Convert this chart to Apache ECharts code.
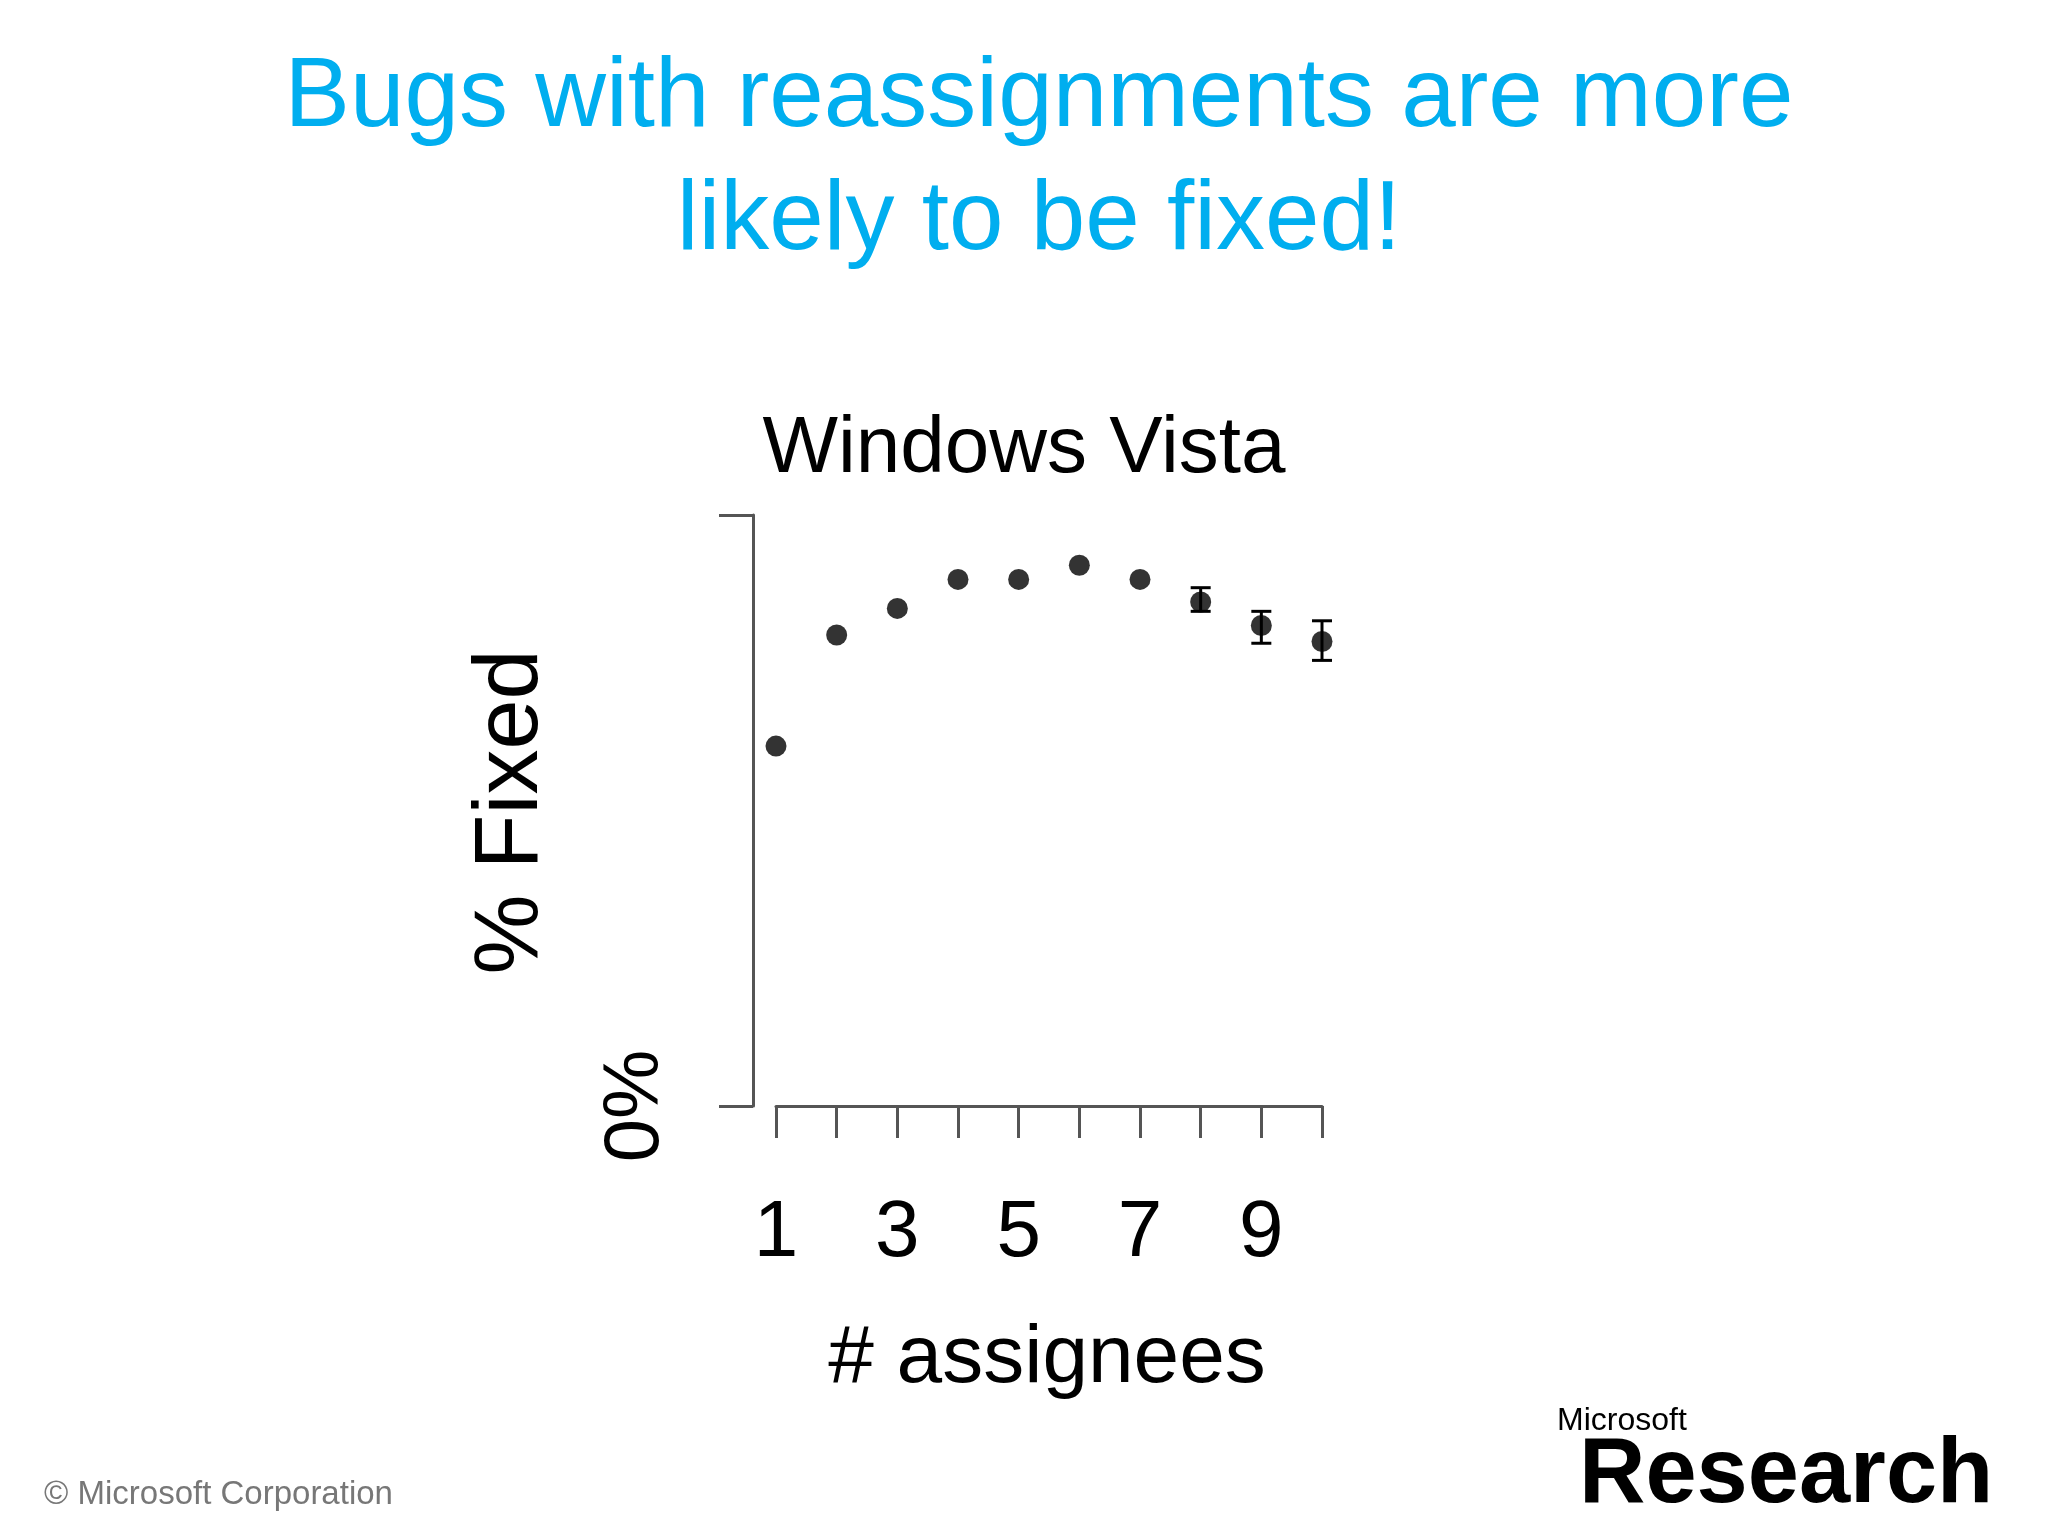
<!DOCTYPE html>
<html>
<head>
<meta charset="utf-8">
<script src="https://cdn.jsdelivr.net/npm/echarts@6/dist/echarts.min.js"></script>
<style>
html,body{margin:0;padding:0;background:#fff;}
#chart{width:2048px;height:1536px;}
</style>
</head>
<body>
<div id="chart"></div>
<script>
// data (y in % of axis height, top of axis = 100)
var assignees = [1, 2, 3, 4, 5, 6, 7, 8, 9, 10];
var pctFixed = [60.9, 79.7, 84.2, 89.1, 89.1, 91.5, 89.1, 85.3, 81.3, 78.6];
var errLow = [60.9, 79.7, 84.2, 89.1, 89.1, 91.5, 89.1, 83.7, 78.3, 75.4];
var errHigh = [60.9, 79.7, 84.2, 89.1, 89.1, 91.5, 89.1, 87.7, 83.7, 82.1];
var xTickLabels = ['1', '', '3', '', '5', '', '7', '', '9', ''];

var font = '"Liberation Sans", Arial, sans-serif';
var chart = echarts.init(document.getElementById('chart'));

var points = assignees.map(function (a, i) { return [a, pctFixed[i]]; });
var bars = assignees.map(function (a, i) { return [a, errLow[i], errHigh[i]]; });

function drawErr(params, api) {
    var lo = api.coord([api.value(0), api.value(1)]);
    var hi = api.coord([api.value(0), api.value(2)]);
    if (Math.abs(hi[1] - lo[1]) < 1) return null;
    var c = 10;
    var st = { stroke: '#000', lineWidth: 3 };
    return {
        type: 'group',
        children: [
            { type: 'line', shape: { x1: lo[0], y1: lo[1], x2: hi[0], y2: hi[1] }, style: st },
            { type: 'line', shape: { x1: lo[0] - c, y1: lo[1], x2: lo[0] + c, y2: lo[1] }, style: st },
            { type: 'line', shape: { x1: hi[0] - c, y1: hi[1], x2: hi[0] + c, y2: hi[1] }, style: st }
        ]
    };
}

var option = {
    backgroundColor: '#fff',
    animation: false,
    title: [{
        text: 'Bugs with reassignments are more\nlikely to be fixed!',
        left: 1034, top: 32, textAlign: 'center',
        textStyle: { color: '#00AEEF', fontFamily: font, fontSize: 98, fontWeight: 'normal', lineHeight: 123 }
    }, {
        text: 'Windows Vista',
        left: 1019, top: 405, textAlign: 'center',
        textStyle: { color: '#000', fontFamily: font, fontSize: 80, fontWeight: 'normal' }
    }],
    graphic: [
        { type: 'text', x: 512, y: 812, rotation: Math.PI / 2,
          style: { text: '% Fixed', font: '90px ' + font, fill: '#000', align: 'center', verticalAlign: 'middle' } },
        { type: 'text', x: 1047, y: 1359,
          style: { text: '# assignees', font: '82px ' + font, fill: '#000', align: 'center', verticalAlign: 'middle' } },
        { type: 'text', x: 44, y: 1495,
          style: { text: '© Microsoft Corporation', font: '33px ' + font, fill: '#777', verticalAlign: 'middle' } },
        { type: 'text', x: 1557, y: 1421,
          style: { text: 'Microsoft', font: '32px ' + font, fill: '#000', verticalAlign: 'middle' } },
        { type: 'text', x: 1579, y: 1477,
          style: { text: 'Research', font: 'bold 92px ' + font, fill: '#000', verticalAlign: 'middle' } }
    ],
    grid: { left: 776, right: 726, top: 515, bottom: 430 },
    xAxis: {
        type: 'value', min: 1, max: 10, interval: 1, offset: 24,
        splitLine: { show: false },
        axisLine: { show: true, lineStyle: { color: '#555', width: 3 } },
        axisTick: { show: true, length: 32, lineStyle: { color: '#555', width: 3 } },
        axisLabel: {
            margin: 64, color: '#000', fontFamily: font, fontSize: 80,
            formatter: function (v) { return xTickLabels[assignees.indexOf(v)] || ''; }
        }
    },
    yAxis: {
        type: 'value', min: 0, max: 100, interval: 100, offset: 23,
        splitLine: { show: false },
        axisLine: { show: true, lineStyle: { color: '#555', width: 3 } },
        axisTick: { show: true, length: 34, lineStyle: { color: '#555', width: 3 } },
        axisLabel: {
            margin: 78, rotate: 90, color: '#000', fontFamily: font, fontSize: 78,
            formatter: function (v) { return v === 0 ? '0%' : ''; }
        }
    },
    series: [{
        type: 'custom', renderItem: drawErr, data: bars, z: 3,
        encode: { x: 0, y: [1, 2] }
    }, {
        type: 'scatter', data: points, symbolSize: 21, z: 4,
        itemStyle: { color: '#000' }
    }]
};
chart.setOption(option);
</script>
</body>
</html>
